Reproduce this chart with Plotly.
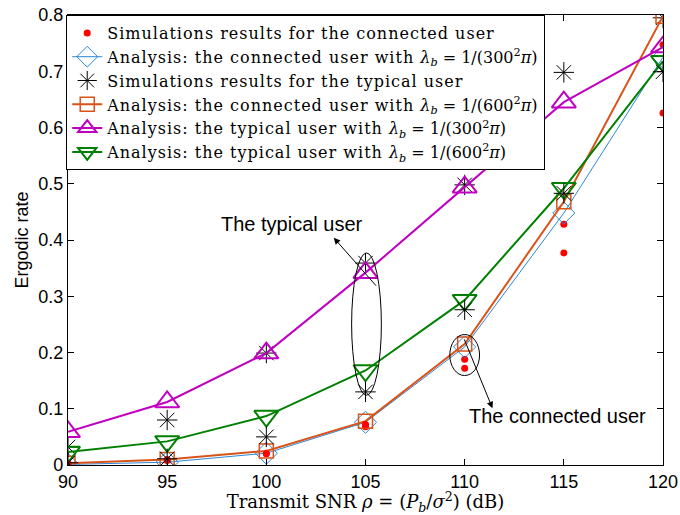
import plotly.graph_objects as go

snr = [90, 95, 100, 105, 110, 115, 120]

# Analysis curves
conn_300 = [0.001, 0.005, 0.021, 0.076, 0.210, 0.448, 0.725]
conn_600 = [0.003, 0.010, 0.025, 0.078, 0.215, 0.468, 0.798]
typ_300 = [0.059, 0.112, 0.199, 0.342, 0.494, 0.645, 0.743]
typ_600 = [0.023, 0.042, 0.087, 0.168, 0.293, 0.492, 0.718]

# Simulation results
sim_conn_a = [0.003, 0.010, 0.021, 0.068, 0.188, 0.428, 0.747]
sim_conn_b = [0.002, 0.008, 0.020, 0.072, 0.172, 0.377, 0.626]
sim_typ_a = [0.032, 0.080, 0.199, 0.359, 0.498, 0.698, 0.795]
sim_typ_b = [0.004, 0.011, 0.050, 0.130, 0.276, 0.483, 0.699]

SP = '<span style="letter-spacing:1px">'
lbl_sim_conn = SP + "Simulations results for the connected user</span>"
lbl_sim_typ = SP + "Simulations results for the typical user</span>"
lbl_conn300 = SP + "Analysis: the connected user with </span><i>λ</i><sub><i>b</i></sub> = 1/(300<sup>2</sup><i>π</i>)"
lbl_conn600 = SP + "Analysis: the connected user with </span><i>λ</i><sub><i>b</i></sub> = 1/(600<sup>2</sup><i>π</i>)"
lbl_typ300 = SP + "Analysis: the typical user with </span><i>λ</i><sub><i>b</i></sub> = 1/(300<sup>2</sup><i>π</i>)"
lbl_typ600 = SP + "Analysis: the typical user with </span><i>λ</i><sub><i>b</i></sub> = 1/(600<sup>2</sup><i>π</i>)"

RED = "#ff0000"
BLUE = "#2a88d8"
ORANGE = "#d95319"
MAG = "#c000c0"
GREEN = "#008000"
SERIF = "DejaVu Serif, Liberation Serif, serif"
SANS = "Liberation Sans, Arial, sans-serif"

fig = go.Figure()

fig.add_trace(go.Scatter(x=snr, y=sim_conn_a, mode="markers", name=lbl_sim_conn,
                         marker=dict(color=RED, size=7, symbol="circle")))
fig.add_trace(go.Scatter(x=snr, y=conn_300, mode="lines+markers", name=lbl_conn300,
                         line=dict(color=BLUE, width=1),
                         marker=dict(symbol="diamond-open", size=17, color=BLUE, line=dict(width=1, color=BLUE))))
fig.add_trace(go.Scatter(x=snr, y=sim_typ_a, mode="markers", name=lbl_sim_typ,
                         marker=dict(symbol="asterisk-open", size=17, color="black", line=dict(width=1, color="black"))))
fig.add_trace(go.Scatter(x=snr, y=conn_600, mode="lines+markers", name=lbl_conn600,
                         line=dict(color=ORANGE, width=2),
                         marker=dict(symbol="square-open", size=14, color=ORANGE, line=dict(width=1.5, color=ORANGE))))
fig.add_trace(go.Scatter(x=snr, y=typ_300, mode="lines+markers", name=lbl_typ300,
                         line=dict(color=MAG, width=2),
                         marker=dict(symbol="triangle-up-open", size=21, color=MAG, line=dict(width=2, color=MAG))))
fig.add_trace(go.Scatter(x=snr, y=typ_600, mode="lines+markers", name=lbl_typ600,
                         line=dict(color=GREEN, width=2),
                         marker=dict(symbol="triangle-down-open", size=21, color=GREEN, line=dict(width=2, color=GREEN))))
fig.add_trace(go.Scatter(x=snr, y=sim_conn_b, mode="markers", showlegend=False,
                         marker=dict(color=RED, size=7, symbol="circle")))
fig.add_trace(go.Scatter(x=snr, y=sim_typ_b, mode="markers", showlegend=False,
                         marker=dict(symbol="asterisk-open", size=17, color="black", line=dict(width=1, color="black"))))

# Ellipses
fig.add_shape(type="circle", xref="x", yref="y", x0=104.3, x1=105.8, y0=0.124, y1=0.377,
              line=dict(color="black", width=1))
fig.add_shape(type="circle", xref="x", yref="y", x0=109.25, x1=110.75, y0=0.159, y1=0.232,
              line=dict(color="black", width=1))

# Arrows and labels
fig.add_annotation(x=103.4, y=0.404, text="", showarrow=True,
                   ax=105.6, ay=0.316, axref="x", ayref="y",
                   arrowhead=2, arrowsize=1.3, arrowwidth=1, arrowcolor="black")
fig.add_annotation(x=111.4, y=0.101, text="", showarrow=True,
                   ax=109.95, ay=0.226, axref="x", ayref="y",
                   arrowhead=2, arrowsize=1.3, arrowwidth=1, arrowcolor="black")
fig.add_annotation(x=101.3, y=0.428, text="The typical user", showarrow=False,
                   font=dict(family=SANS, size=20, color="black"))
fig.add_annotation(x=114.7, y=0.088, text="The connected user", showarrow=False,
                   font=dict(family=SANS, size=20, color="black"))

axis_common = dict(showline=True, mirror="ticks", linecolor="black", linewidth=1.2,
                   ticks="inside", ticklen=6, tickcolor="black", showgrid=False, zeroline=False,
                   automargin=False,
                   tickfont=dict(family=SANS, size=18, color="black"))

fig.update_xaxes(range=[90, 120], tickmode="array", tickvals=snr, **axis_common,
                 title=dict(text="Transmit SNR <i>ρ</i> = (<i>P</i><sub><i>b</i></sub>/<i>σ</i><sup>2</sup>) (dB)",
                            font=dict(family=SERIF, size=18, color="black"),
                            standoff=4))
fig.update_yaxes(range=[0, 0.8], tickmode="array",
                 tickvals=[0, 0.1, 0.2, 0.3, 0.4, 0.5, 0.6, 0.7, 0.8],
                 ticktext=["0", "0.1", "0.2", "0.3", "0.4", "0.5", "0.6", "0.7", "0.8"], **axis_common,
                 title=dict(text="Ergodic rate", font=dict(family=SANS, size=18, color="black"),
                            standoff=4))

fig.update_layout(
    width=680, height=515,
    margin=dict(l=68, r=17, t=15, b=50),
    plot_bgcolor="white", paper_bgcolor="white",
    legend=dict(x=-0.003, y=1, xanchor="left", yanchor="top",
                bgcolor="white", bordercolor="black", borderwidth=1,
                font=dict(family=SERIF, size=16, color="black"),
                tracegroupgap=0, itemwidth=30),
)

fig.write_html("out.html")
